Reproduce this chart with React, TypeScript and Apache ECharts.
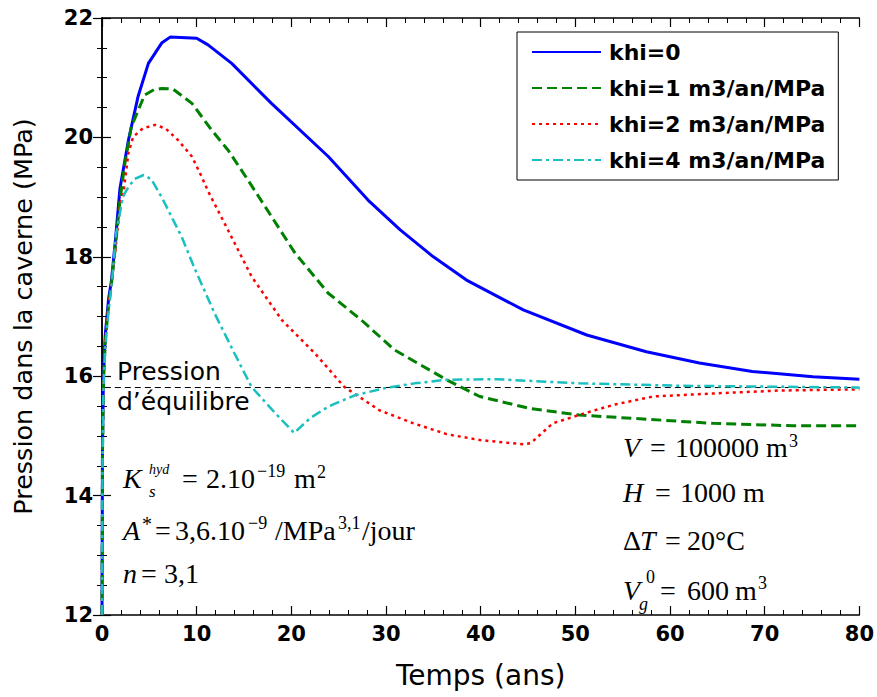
import React, { useEffect, useRef } from "react";
import * as echarts from "echarts";

// ---- data ----
const seriesNames = ["khi=0", "khi=1 m3/an/MPa", "khi=2 m3/an/MPa", "khi=4 m3/an/MPa"];

const tKhi0 = [0, 0.05, 0.15, 0.35, 0.7, 1.0, 1.4, 1.9, 2.8, 3.8, 4.9, 6.3, 7.2, 10.0, 11.2, 13.7, 17.9, 23.9, 28.1, 31.5, 35, 38.5, 44.5, 51.2, 57.5, 63.1, 68.7, 75.1, 80];
const pKhi0 = [12.0, 14.8, 16.0, 16.7, 17.3, 17.6, 18.25, 19.15, 19.96, 20.68, 21.24, 21.58, 21.68, 21.66, 21.55, 21.24, 20.57, 19.68, 18.95, 18.45, 18.0, 17.61, 17.11, 16.69, 16.41, 16.22, 16.08, 15.99, 15.95];

const tKhi1 = [0, 0.05, 0.15, 0.35, 0.7, 1.0, 1.4, 1.9, 2.4, 3.1, 4.5, 5.5, 6.3, 7.5, 9.5, 11.6, 13.3, 15.4, 17.8, 20.4, 23.9, 27.4, 30.9, 36.4, 39.9, 45.2, 50.4, 57.5, 64.5, 73, 80];
const pKhi1 = [12.0, 14.7, 15.9, 16.6, 17.2, 17.55, 18.15, 18.95, 19.55, 20.18, 20.71, 20.8, 20.82, 20.81, 20.57, 20.12, 19.79, 19.29, 18.7, 18.06, 17.39, 16.94, 16.44, 15.94, 15.66, 15.46, 15.35, 15.28, 15.21, 15.17, 15.17];

const tKhi2 = [0, 0.05, 0.15, 0.35, 0.7, 1.0, 1.4, 1.9, 2.3, 2.8, 3.3, 4.3, 5.6, 6.7, 8.0, 9.5, 10.5, 11.2, 13.3, 15.8, 19.0, 22.5, 25.6, 29.3, 32.9, 36.4, 39.9, 44.5, 45.3, 47.6, 50.4, 54, 58.2, 64.5, 71.6, 80];
const pKhi2 = [12.0, 14.6, 15.9, 16.6, 17.2, 17.55, 18.1, 18.85, 19.12, 19.75, 20.01, 20.15, 20.21, 20.15, 19.96, 19.68, 19.35, 19.1, 18.45, 17.67, 16.94, 16.38, 15.82, 15.43, 15.21, 15.03, 14.93, 14.86, 14.88, 15.21, 15.35, 15.52, 15.66, 15.71, 15.76, 15.78];

const tKhi4 = [0, 0.05, 0.15, 0.35, 0.7, 1.0, 1.5, 2.2, 2.6, 3.4, 4.4, 5.2, 6.3, 7.7, 8.4, 9.8, 11.9, 14.0, 15.8, 18.3, 20.3, 22.0, 23.9, 26.7, 29.9, 33, 36.4, 41.7, 50.4, 61, 80];
const pKhi4 = [12.0, 14.4, 15.8, 16.5, 17.1, 17.5, 18.4, 19.0, 19.12, 19.3, 19.37, 19.3, 19.0, 18.56, 18.34, 17.8, 17.05, 16.38, 15.82, 15.38, 15.05, 15.3, 15.49, 15.68, 15.8, 15.88, 15.94, 15.95, 15.88, 15.84, 15.81];

const equilibriumPressure = 15.81;
const equilibriumRange = [0.3, 80];

const xRange = [0, 80];
const yRange = [12, 22];

const zip = (t: number[], p: number[]) => t.map((v, i) => [v, p[i]]);

const serif = "'Liberation Serif', 'Times New Roman', serif";
const sans = "'DejaVu Sans', Verdana, sans-serif";

function piece(x: number, base: number, text: string, size: number, italic = false, family = serif) {
  return {
    type: "text",
    x,
    y: base - 0.34 * size,
    z: 50,
    style: {
      text,
      font: `${italic ? "italic " : ""}${size}px ${family}`,
      fill: "#000",
      verticalAlign: "middle",
      align: "left",
    },
  };
}

const S = 28;
const s = 18;

const annotations = [
  // Pression d'équilibre
  piece(117, 380, "Pression", 25, false, sans),
  piece(117, 410, "d\u2019\u00e9quilibre", 25, false, sans),
  // left block
  piece(123, 488, "K", S, true),
  piece(149, 497, "s", 17, true),
  piece(149, 474, "hyd", 14, true),
  piece(182, 488, "=", S),
  piece(206, 488, "2.10", S),
  piece(257, 477, "\u221219", s),
  piece(294, 488, "m", S),
  piece(317, 478, "2", s),

  piece(123, 540, "A", S, true),
  piece(142, 531, "*", 20),
  piece(155, 540, "=", S),
  piece(175, 540, "3,6.10", S),
  piece(248, 529, "\u22129", s),
  piece(275, 540, "/MPa", S),
  piece(338, 529, "3,1", s),
  piece(362, 540, "/jour", S),

  piece(123, 583, "n", S, true),
  piece(141, 583, "=", S),
  piece(164, 583, "3,1", S),

  // right block
  piece(623, 457, "V", S, true),
  piece(650, 457, "=", S),
  piece(675, 457, "100000", S),
  piece(766, 457, "m", S),
  piece(789, 447, "3", s),

  piece(623, 502, "H", S, true),
  piece(655, 502, "=", S),
  piece(680, 502, "1000", S),
  piece(743, 502, "m", S),

  piece(623, 550, "\u0394", S),
  piece(640, 550, "T", S, true),
  piece(665, 550, "=", S),
  piece(687, 550, "20\u00b0C", S),

  piece(623, 600, "V", S, true),
  piece(646, 583, "0", s),
  piece(639, 610, "g", s, true),
  piece(660, 600, "=", S),
  piece(687, 600, "600", S),
  piece(735, 600, "m", S),
  piece(758, 589, "3", s),
];

const axisCommon = {
  axisLine: { show: true, lineStyle: { color: "#000", width: 1.5 } },
  axisTick: { show: true, inside: true, length: 9, lineStyle: { color: "#000", width: 1.2 } },
  splitLine: { show: false },
};

export default function App() {
  const ref = useRef<HTMLDivElement>(null);
  useEffect(() => {
    if (!ref.current) return;
    const chart = echarts.init(ref.current, undefined, { renderer: "svg" });
    const option: any = {
      animation: false,
      backgroundColor: "#fff",
      grid: { left: 102, top: 18, right: 17, bottom: 82, containLabel: false },
      legend: {
        data: seriesNames,
        orient: "vertical",
        left: 517,
        top: 32,
        backgroundColor: "#fff",
        borderColor: "#000",
        borderWidth: 1,
        borderRadius: 0,
        padding: [9, 13, 9, 14],
        itemWidth: 69,
        itemHeight: 24,
        itemGap: 14,
        itemStyle: { opacity: 0 },
        textStyle: { fontFamily: sans, fontWeight: "bold", fontSize: 22, color: "#000", padding: [0, 0, 0, 3] },
      },
      xAxis: [
        {
          type: "value",
          min: xRange[0],
          max: xRange[1],
          interval: 10,
          position: "bottom",
          ...axisCommon,
          minorTick: { show: true, splitNumber: 5, length: 5, lineStyle: { color: "#000", width: 1 } },
          axisLabel: { color: "#000", fontFamily: sans, fontWeight: "bold", fontSize: 21, margin: 8 },
          name: "Temps (ans)",
          nameLocation: "middle",
          nameGap: 46,
          nameTextStyle: { fontFamily: sans, fontSize: 28, color: "#000" },
        },
        {
          type: "value",
          min: xRange[0],
          max: xRange[1],
          interval: 10,
          position: "top",
          ...axisCommon,
          minorTick: { show: true, splitNumber: 5, length: 5, lineStyle: { color: "#000", width: 1 } },
          axisLabel: { show: false },
        },
      ],
      yAxis: [
        {
          type: "value",
          min: yRange[0],
          max: yRange[1],
          interval: 2,
          position: "left",
          ...axisCommon,
          minorTick: { show: true, splitNumber: 4, length: 5, lineStyle: { color: "#000", width: 1 } },
          axisLabel: { color: "#000", fontFamily: sans, fontWeight: "bold", fontSize: 21, margin: 9 },
          name: "Pression dans la caverne (MPa)",
          nameLocation: "middle",
          nameGap: 66,
          nameTextStyle: { fontFamily: sans, fontSize: 25.5, color: "#000" },
        },
        {
          type: "value",
          min: yRange[0],
          max: yRange[1],
          interval: 2,
          position: "right",
          ...axisCommon,
          minorTick: { show: true, splitNumber: 4, length: 5, lineStyle: { color: "#000", width: 1 } },
          axisLabel: { show: false },
        },
      ],
      series: [
        {
          name: "equilibre",
          type: "line",
          data: equilibriumRange.map((t) => [t, equilibriumPressure]),
          symbol: "none",
          lineStyle: { color: "#000", width: 1, type: [6, 4] },
          z: 1,
          silent: true,
        },
        {
          name: seriesNames[0],
          type: "line",
          data: zip(tKhi0, pKhi0),
          symbol: "none",
          color: "#0000ff",
          lineStyle: { color: "#0000ff", width: 3 },
          z: 2,
        },
        {
          name: seriesNames[1],
          type: "line",
          data: zip(tKhi1, pKhi1),
          symbol: "none",
          color: "#008000",
          lineStyle: { color: "#008000", width: 3, type: [10, 5] },
          z: 3,
        },
        {
          name: seriesNames[2],
          type: "line",
          data: zip(tKhi2, pKhi2),
          symbol: "none",
          color: "#ff0000",
          lineStyle: { color: "#ff0000", width: 2.5, type: [3, 4] },
          z: 4,
        },
        {
          name: seriesNames[3],
          type: "line",
          data: zip(tKhi4, pKhi4),
          symbol: "none",
          color: "#1abfbf",
          lineStyle: { color: "#1abfbf", width: 2.5, type: [10, 4, 3, 4] },
          z: 5,
        },
      ],
      graphic: annotations,
    };
    chart.setOption(option);
    return () => chart.dispose();
  }, []);
  return (
    <div
      ref={ref}
      style={{ position: "fixed", left: 0, top: 0, width: 877, height: 697, background: "#fff" }}
    />
  );
}
